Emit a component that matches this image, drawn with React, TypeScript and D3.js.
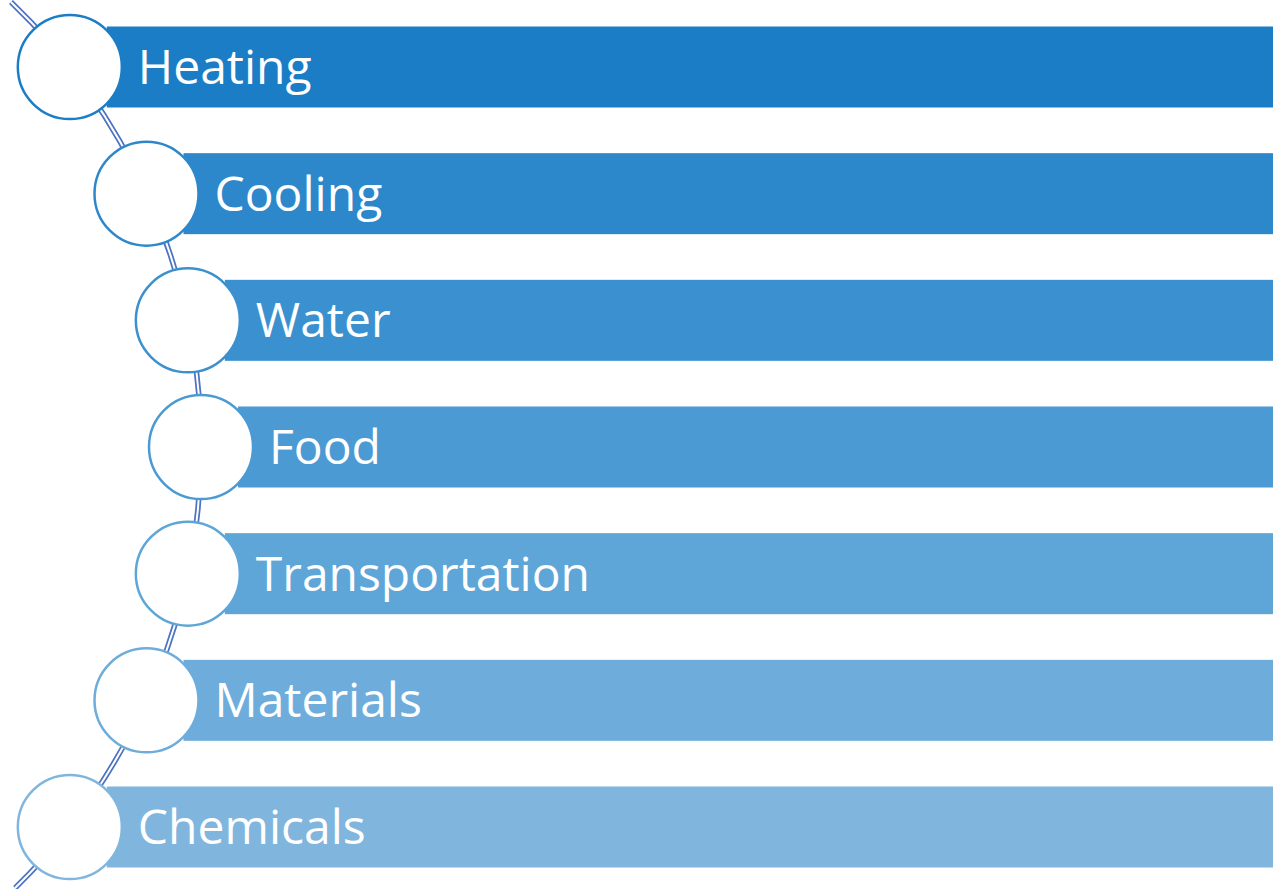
import React from "react";
import * as d3 from "d3";

const categories = ["Heating", "Cooling", "Water", "Food", "Transportation", "Materials", "Chemicals"];
const barColors = ["#1b7dc5", "#2c88cb", "#3b90cf", "#4b9ad3", "#5ea5d8", "#6eaddb", "#80b6de"];

const W = 1278;
const H = 889;

export default function App() {
  const y = d3.scalePoint<string>().domain(categories).range([67, 827]);
  const midY = 447;
  const R = 616;
  const maxX = 201;
  const xc = maxX - R;
  const arcX = (yy: number) => xc + Math.sqrt(R * R - (yy - midY) * (yy - midY));
  const barH = 81;
  const barRight = 1273;
  const circR = 52;

  const p = d3.path();
  const a0 = Math.asin((2 - midY) / R);
  const a1 = Math.asin((888 - midY) / R);
  p.arc(xc, midY, R, a0, a1, false);
  const arcD = p.toString();

  return (
    <svg width={W} height={H} style={{ position: "absolute", left: 0, top: 0 }}>
      <rect width={W} height={H} fill="#ffffff" />
      <path d={arcD} fill="none" stroke="#4d73c2" strokeWidth={5.5} />
      <path d={arcD} fill="none" stroke="#ffffff" strokeWidth={2} />
      {categories.map((c, i) => {
        const cy = y(c)!;
        const cx = arcX(cy);
        return (
          <g key={c}>
            <rect x={cx + 37} y={cy - barH / 2} width={barRight - (cx + 37)} height={barH} fill={barColors[i]} />
            <circle cx={cx} cy={cy} r={circR} fill="#ffffff" stroke={barColors[i]} strokeWidth={2.5} />
            <text
              x={cx + 68}
              y={cy + 17}
              fill="#ffffff"
              fontFamily="'Open Sans', 'Noto Sans', sans-serif"
              fontSize={48}
            >
              {c}
            </text>
          </g>
        );
      })}
    </svg>
  );
}
